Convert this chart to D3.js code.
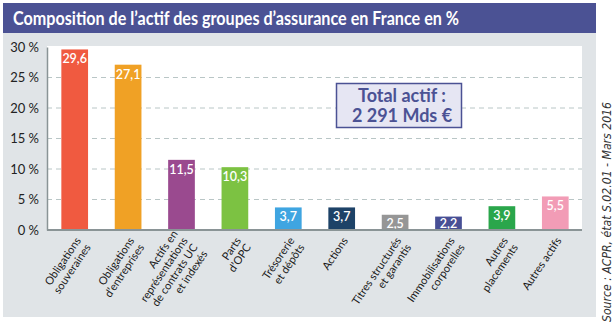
<!DOCTYPE html>
<meta charset="utf-8">
<style>
body { margin: 0; background: #fff; }
svg { display: block; }
</style>
<body>
<script src="https://d3js.org/d3.v7.min.js"></script>
<script>
var width = 616,
    height = 327;

// categories (one array of lines per label) and values in %
var categories = [
  ["Obligations", "souveraines"],
  ["Obligations", "d’entreprises"],
  ["Actifs en", "représentations", "de contrats UC", "et indexés"],
  ["Parts", "d’OPC"],
  ["Trésorerie", "et dépôts"],
  ["Actions"],
  ["Titres structurés", "et garantis"],
  ["Immobilisations", "corporelles"],
  ["Autres", "placements"],
  ["Autres actifs"]
];
var values = [29.6, 27.1, 11.5, 10.3, 3.7, 3.7, 2.5, 2.2, 3.9, 5.5];
var colors = ["#f05a40", "#f0a125", "#9a4a8f", "#7cc242", "#3fa5e1",
              "#1d4267", "#969696", "#474f95", "#2aa64b", "#f29cb6"];
var yTicks = [0, 5, 10, 15, 20, 25, 30];
var title = "Composition de l’actif des groupes d’assurance en France en %";
var totalLines = ["Total actif :", "2 291 Mds €"];
var source = "Source : ACPR, état S.02.01 - Mars 2016";

var blue = "#4b5294",
    font = "Lato, 'Open Sans', sans-serif";

var svg = d3.select("body").append("svg")
    .attr("width", width)
    .attr("height", height);

// frame: grey panel with title band
svg.append("rect")
    .attr("x", 3).attr("y", 33)
    .attr("width", 593).attr("height", 284)
    .attr("fill", "#e0e4e7");

svg.append("rect")
    .attr("x", 3).attr("y", 3)
    .attr("width", 593).attr("height", 30)
    .attr("fill", blue);

svg.append("text")
    .attr("x", 13).attr("y", 25)
    .attr("fill", "#fff")
    .attr("font-family", font)
    .attr("font-weight", 700)
    .attr("font-size", 18)
    .attr("textLength", 446)
    .attr("lengthAdjust", "spacingAndGlyphs")
    .text(title);

var plot = {left: 47, right: 582, top: 46, bottom: 230};

svg.append("rect")
    .attr("x", plot.left).attr("y", plot.top)
    .attr("width", plot.right - plot.left)
    .attr("height", plot.bottom - plot.top)
    .attr("fill", "#fff");

var x = d3.scaleBand()
    .domain(d3.range(values.length))
    .range([plot.left + 1, plot.right])
    .paddingInner(0.5)
    .paddingOuter(0.25);

var y = d3.scaleLinear()
    .domain([0, 30])
    .range([plot.bottom, plot.top + 1]);

// dashed gridlines
svg.append("g")
  .selectAll("line")
  .data(yTicks.filter(function(d) { return d > 0 && d < 30; }))
  .join("line")
    .attr("x1", plot.left).attr("x2", plot.right)
    .attr("y1", function(d) { return y(d); })
    .attr("y2", function(d) { return y(d); })
    .attr("stroke", "#b9c6c6")
    .attr("stroke-width", 1)
    .attr("stroke-dasharray", "5,4");

// y axis
var yAxis = svg.append("g")
    .attr("transform", "translate(" + plot.left + ",0)")
    .call(d3.axisLeft(y)
      .tickValues(yTicks)
      .tickSize(0)
      .tickPadding(8)
      .tickFormat(function(d) { return d + " %"; }));

yAxis.select(".domain")
    .attr("stroke", "#8a9496")
    .attr("stroke-width", 1.5);

yAxis.selectAll("text")
    .attr("font-family", font)
    .attr("font-size", 13)
    .attr("fill", "#222");

// bars
svg.append("g")
  .selectAll("rect")
  .data(values)
  .join("rect")
    .attr("x", function(d, i) { return x(i); })
    .attr("y", function(d) { return y(d); })
    .attr("width", x.bandwidth())
    .attr("height", function(d) { return y(0) - y(d); })
    .attr("fill", function(d, i) { return colors[i]; });

// value labels inside bars
svg.append("g")
  .selectAll("text")
  .data(values)
  .join("text")
    .attr("x", function(d, i) { return x(i) + x.bandwidth() / 2; })
    .attr("y", function(d) { return Math.min(y(d) + 14, y(0) - 2); })
    .attr("text-anchor", "middle")
    .attr("fill", "#fff")
    .attr("font-family", font)
    .attr("font-weight", 600)
    .attr("font-size", 12.5)
    .text(function(d) { return d3.format(".1f")(d).replace(".", ","); });

// x axis baseline
var xAxis = svg.append("g")
    .attr("transform", "translate(0," + plot.bottom + ")")
    .call(d3.axisBottom(x).tickSize(0).tickFormat(""));

xAxis.select(".domain")
    .attr("d", "M" + plot.left + ",0H" + plot.right)
    .attr("stroke", "#8a9496")
    .attr("stroke-width", 2);

// rotated multi-line category labels
var lh = 12;
xAxis.selectAll(".tick text").remove();
xAxis.selectAll(".tick")
  .append("text")
    .attr("transform", "translate(0,6) rotate(-56)")
    .attr("text-anchor", "end")
    .attr("fill", "#1a1a1a")
    .attr("font-family", font)
    .attr("font-size", 11)
  .each(function(i) {
    var lines = categories[i],
        first = Math.floor((lines.length - 1) / 2);
    d3.select(this).selectAll("tspan")
      .data(lines)
      .join("tspan")
        .attr("x", 0)
        .attr("y", function(d, j) { return (j - first) * lh + 8; })
        .text(function(d) { return d; });
  });

// total box
var box = svg.append("g");
box.append("rect")
    .attr("x", 336.5).attr("y", 83.5)
    .attr("width", 125).attr("height", 44)
    .attr("fill", "#e6e6f3")
    .attr("stroke", blue)
    .attr("stroke-width", 1.5);

box.selectAll("text")
  .data(totalLines)
  .join("text")
    .attr("x", 402)
    .attr("y", function(d, i) { return 102 + i * 20; })
    .attr("text-anchor", "middle")
    .attr("fill", blue)
    .attr("font-family", font)
    .attr("font-weight", 700)
    .attr("font-size", 18)
    .text(function(d) { return d; });

// source, vertical on the right edge
svg.append("text")
    .attr("transform", "translate(611,322) rotate(-90)")
    .attr("fill", "#333")
    .attr("font-family", "'Liberation Sans Narrow', 'DejaVu Sans Condensed', sans-serif")
    .attr("font-style", "italic")
    .attr("font-size", 12.5)
    .attr("textLength", 220)
    .attr("lengthAdjust", "spacingAndGlyphs")
    .text(source);
</script>
</body>
</html>
